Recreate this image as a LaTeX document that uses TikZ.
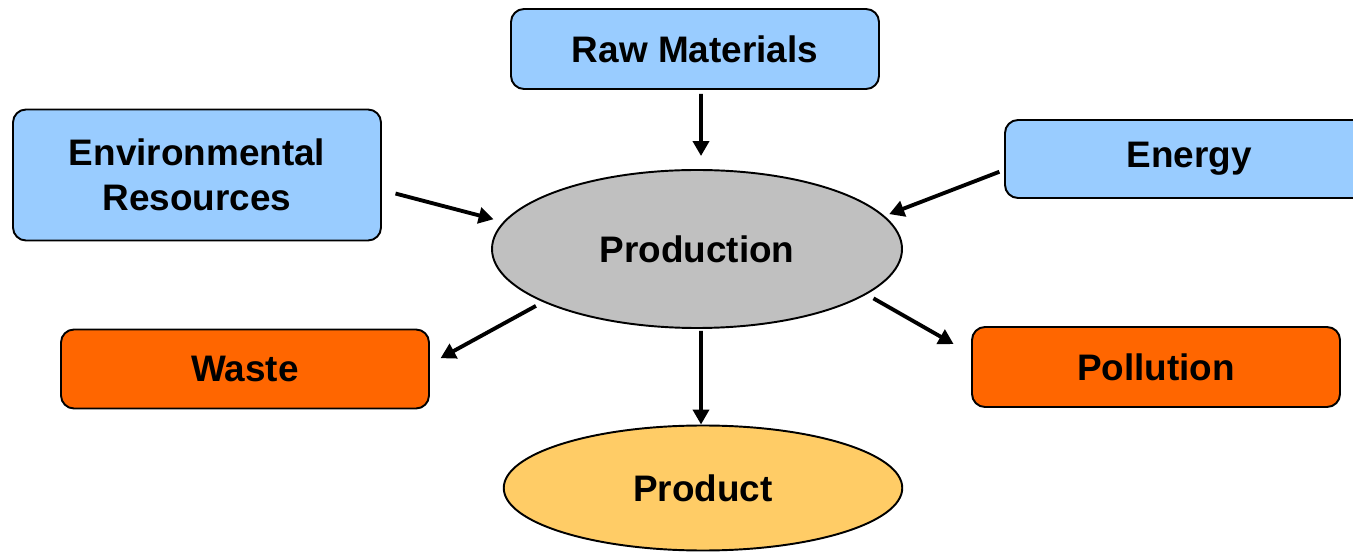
\documentclass[tikz,border=0pt]{standalone}
\usepackage{fontspec}
\setmainfont{Liberation Sans}
\usepackage{tikz}
\usetikzlibrary{positioning, arrows.meta, shapes.geometric}
\definecolor{inblue}{HTML}{99CCFF}
\definecolor{outorange}{HTML}{FF6600}
\definecolor{prodgrey}{HTML}{C0C0C0}
\definecolor{prodyellow}{HTML}{FFCC66}
\tikzset{
  box/.style={draw, rounded corners=0.26cm, line width=1.1pt, minimum width=7.36cm, align=center, font=\fontsize{21}{25.6}\selectfont\bfseries},
  inbox/.style={box, fill=inblue},
  outbox/.style={box, fill=outorange},
  oval/.style={ellipse, draw, line width=1.1pt, inner sep=0pt, font=\fontsize{21}{25.6}\selectfont\bfseries},
  arr/.style={-{Triangle[length=0.3cm, width=0.32cm]}, line width=2.2pt}
}

\begin{document}
\begin{tikzpicture}
\useasboundingbox (0,0) rectangle (27.06,-11.04);
% nodes %
\node[inbox, minimum height=1.6cm] (raw) at (13.9,-0.98) {Raw Materials};
\node[inbox, minimum height=2.62cm] (env) at (3.94,-3.5) {Environmental\\Resources};
\node[inbox, minimum height=1.56cm] (energy) at (23.78,-3.18) {Energy};
\node[oval, fill=prodgrey, minimum width=8.2cm, minimum height=3.16cm] (prod) at (13.94,-4.98) {Production};
\node[outbox, minimum height=1.58cm] (waste) at (4.9,-7.38) {Waste};
\node[outbox, minimum height=1.6cm] (pollution) at (23.12,-7.34) {Pollution};
\node[oval, fill=prodyellow, minimum width=7.97cm, minimum height=2.5cm] (product) at (14.06,-9.76) {Product};
% edges %
\draw[arr, shorten <=0.08cm, shorten >=0.26cm] ([xshift=0.12cm]raw.south) -- ([xshift=0.08cm]prod.north);
\draw[arr, shorten <=0.28cm, shorten >=0.2cm] ([yshift=-0.3cm]env.east) -- (prod.172);
\draw[arr, shorten <=0.1cm, shorten >=0.1cm] ([yshift=-0.22cm]energy.west) -- (prod.10);
\draw[arr, shorten <=0.16cm, shorten >=0.24cm] (prod.199) -- ([yshift=0.1cm]waste.east);
\draw[arr, shorten <=0.04cm] ([xshift=0.08cm]prod.south) -- ([xshift=-0.04cm]product.north);
\draw[arr, shorten <=0.16cm, shorten >=0.4cm] (prod.-15) -- ([yshift=0.26cm]pollution.west);
\end{tikzpicture}
\end{document}
